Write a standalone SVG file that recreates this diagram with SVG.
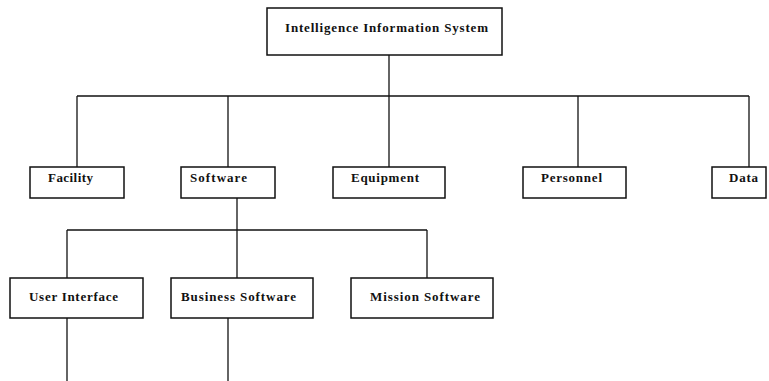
<svg xmlns="http://www.w3.org/2000/svg" width="769" height="381" viewBox="0 0 769 381">
  <style>
    .box { fill: #ffffff; stroke: #111111; stroke-width: 1.5; }
    .lbl { font-family: "Liberation Serif", "Times New Roman", serif; font-weight: bold; font-size: 13px; fill: #111111; }
    .conn { fill: none; stroke: #111111; stroke-width: 1.3; }
  </style>
  <rect width="769" height="381" fill="#ffffff"/>

  <!-- connectors -->
  <g id="connectors" class="conn">
    <path d="M389 55 V96"/>
    <path d="M77 96 H749"/>
    <path d="M77 96 V167"/>
    <path d="M228 96 V167"/>
    <path d="M389 96 V167"/>
    <path d="M578 96 V167"/>
    <path d="M749 96 V167"/>
    <path d="M237 198 V230"/>
    <path d="M67 230 H427"/>
    <path d="M67 230 V278"/>
    <path d="M237 230 V278"/>
    <path d="M427 230 V278"/>
    <path d="M67 318 V381"/>
    <path d="M228 318 V381"/>
  </g>

  <g id="node-iis">
    <rect class="box" x="267" y="8" width="235" height="47"/>
    <text class="lbl" x="285" y="32" textLength="203" lengthAdjust="spacing">Intelligence Information System</text>
  </g>

  <g id="node-facility">
    <rect class="box" x="30" y="167" width="94" height="31"/>
    <text class="lbl" x="48" y="182" textLength="45" lengthAdjust="spacing">Facility</text>
  </g>

  <g id="node-software">
    <rect class="box" x="181" y="167" width="94" height="31"/>
    <text class="lbl" x="190" y="182" textLength="57" lengthAdjust="spacing">Software</text>
  </g>

  <g id="node-equipment">
    <rect class="box" x="333" y="167" width="112" height="31"/>
    <text class="lbl" x="351" y="182" textLength="68" lengthAdjust="spacing">Equipment</text>
  </g>

  <g id="node-personnel">
    <rect class="box" x="523" y="167" width="103" height="31"/>
    <text class="lbl" x="541" y="182" textLength="61" lengthAdjust="spacing">Personnel</text>
  </g>

  <g id="node-data">
    <rect class="box" x="712" y="167" width="54" height="31"/>
    <text class="lbl" x="729" y="182" textLength="29" lengthAdjust="spacing">Data</text>
  </g>

  <g id="node-user-interface">
    <rect class="box" x="10" y="278" width="133" height="40"/>
    <text class="lbl" x="29" y="301" textLength="89" lengthAdjust="spacing">User Interface</text>
  </g>

  <g id="node-business-software">
    <rect class="box" x="171" y="278" width="142" height="40"/>
    <text class="lbl" x="181" y="301" textLength="115" lengthAdjust="spacing">Business Software</text>
  </g>

  <g id="node-mission-software">
    <rect class="box" x="351" y="278" width="142" height="40"/>
    <text class="lbl" x="370" y="301" textLength="110" lengthAdjust="spacing">Mission Software</text>
  </g>
</svg>
